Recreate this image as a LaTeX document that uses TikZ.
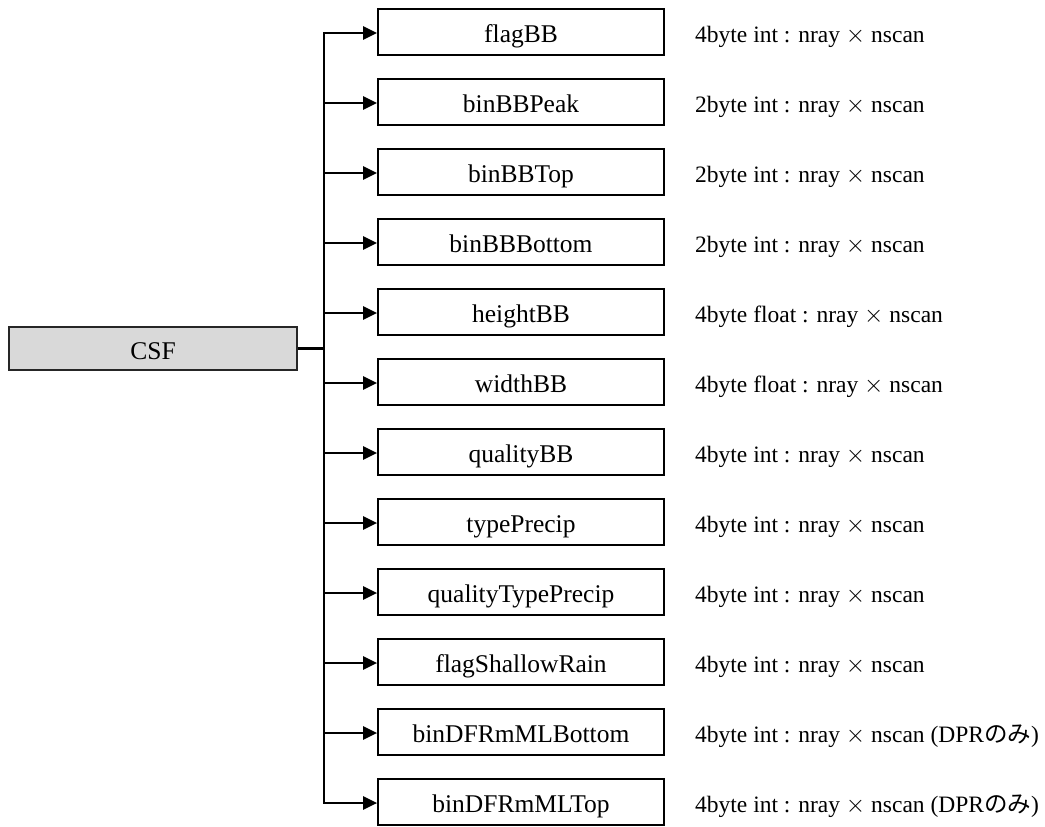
\documentclass[tikz,border=0pt]{standalone}
\usepackage{fontspec}
\setmainfont{Liberation Serif}
\newfontfamily\cjk{Noto Sans CJK JP}
\usetikzlibrary{arrows.meta}
\tikzset{
  leaf/.style={draw=black, line width=1.7pt, fill=white, minimum width=286pt, minimum height=46pt, inner sep=0pt, text height=21pt, text depth=0pt, font=\fontsize{25.5}{30}\selectfont},
  rootbox/.style={draw=black!85, line width=1.7pt, fill=black!15, minimum width=288pt, minimum height=43pt, inner sep=0pt, text height=21pt, text depth=0pt, font=\fontsize{25.5}{30}\selectfont},
  desc/.style={anchor=base west, inner sep=0pt, font=\fontsize{23.5}{28}\selectfont},
  conn/.style={line width=2.5pt, line join=miter},
  tip/.style={{Triangle[length=14pt,width=13pt]}-{Triangle[length=14pt,width=13pt]}},
  tipe/.style={-{Triangle[length=14pt,width=13pt]}}
}
\begin{document}
\begin{tikzpicture}[x=1pt,y=-1pt]
\useasboundingbox (0,0) rectangle (1045,827);
\node[rootbox] (csf) at (153,348.5) {CSF};
\foreach \i/\lab/\d in {
  0/flagBB/4byte int : nray $\times$ nscan,
  1/binBBPeak/2byte int : nray $\times$ nscan,
  2/binBBTop/2byte int : nray $\times$ nscan,
  3/binBBBottom/2byte int : nray $\times$ nscan,
  4/heightBB/4byte float : nray $\times$ nscan,
  5/widthBB/4byte float : nray $\times$ nscan,
  6/qualityBB/4byte int : nray $\times$ nscan,
  7/typePrecip/4byte int : nray $\times$ nscan,
  8/qualityTypePrecip/4byte int : nray $\times$ nscan,
  9/flagShallowRain/4byte int : nray $\times$ nscan,
  10/binDFRmMLBottom/4byte int : nray $\times$ nscan (DPR{\cjk のみ}),
  11/binDFRmMLTop/4byte int : nray $\times$ nscan (DPR{\cjk のみ})}{
  \node[leaf] (b\i) at (521,{32+70*\i}) {\lab};
  \node[desc] (d\i) at (695,{42.5+70*\i}) {\d};
  \coordinate (t\i) at (324,{33+70*\i});
}
\coordinate (j) at (324,348.5);
\draw[conn] (csf.east) -- (j);
\draw[conn,tip] (b0.west |- t0) -- (t0) -- (t11) -- (b11.west |- t11);
\foreach \i in {1,...,10}{
  \draw[conn,tipe] (t\i) -- (b\i.west |- t\i);
}
\end{tikzpicture}
\end{document}
